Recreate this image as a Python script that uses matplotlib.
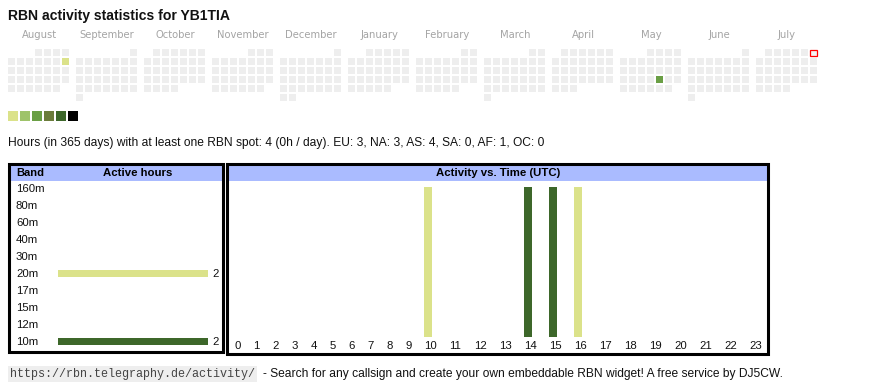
import calendar
import datetime as dt
import numpy as np
import matplotlib.pyplot as plt
from matplotlib.patches import Rectangle

plt.rcParams['font.family'] = ['Liberation Sans', 'DejaVu Sans']

W, H = 870, 390

callsign = 'YB1TIA'
months = [(2024, 8), (2024, 9), (2024, 10), (2024, 11), (2024, 12), (2025, 1),
          (2025, 2), (2025, 3), (2025, 4), (2025, 5), (2025, 6), (2025, 7)]
today = dt.date(2025, 7, 6)
active_days = [dt.date(2024, 8, 11), dt.date(2025, 5, 23)]
active_levels = [0, 2]          # index into the palette
palette = ['#dbe28a', '#9ec36a', '#6a9f45', '#6b7c3b', '#3d672a', '#000000']

bands = ['160m', '80m', '60m', '40m', '30m', '20m', '17m', '15m', '12m', '10m']
band_hours = [0, 0, 0, 0, 0, 2, 0, 0, 0, 2]
band_colors = {'20m': '#dbe28a', '10m': '#3d672a'}

hours = list(range(24))
hour_active = [0, 0, 0, 0, 0, 0, 0, 0, 0, 0, 1, 0,
               0, 0, 1, 1, 1, 0, 0, 0, 0, 0, 0, 0]
hour_band = ['', '', '', '', '', '', '', '', '', '', '20m', '',
             '', '', '10m', '10m', '20m', '', '', '', '', '', '', '']

info = ('Hours (in 365 days) with at least one RBN spot: 4 (0h / day). '
        'EU: 3, NA: 3, AS: 4, SA: 0, AF: 1, OC: 0')
footer_url = 'https://rbn.telegraphy.de/activity/'
footer_text = ('- Search for any callsign and create your own embeddable '
               'RBN widget! A free service by DJ5CW.')


def px_rect(x0, y0, x1, y1):
    return [x0 / W, 1 - y1 / H, (x1 - x0) / W, (y1 - y0) / H]


fig = plt.figure(figsize=(W / 100, H / 100), dpi=100)
ax = fig.add_axes([0, 0, 1, 1])
ax.set_xlim(0, W)
ax.set_ylim(H, 0)
ax.axis('off')

ax.text(8, 16, 'RBN activity statistics for ' + callsign, fontsize=10.1,
        fontweight='bold', va='center', ha='left', color='#111111')

# calendar heatmap, one block of 7 columns (Mon..Sun) per month, rows = weeks
for m, (yr, mo) in enumerate(months):
    bx = 8 + 68 * m
    ax.text(bx + 31, 35.5, calendar.month_name[mo], family='DejaVu Sans',
            fontsize=7.2, color='#a4a4a4', ha='center', va='center')
    first_wd, ndays = calendar.monthrange(yr, mo)
    for d in range(1, ndays + 1):
        i = first_wd + d - 1
        x = bx + 9 * (i % 7)
        y = 49 + 9 * (i // 7)
        day = dt.date(yr, mo, d)
        fc = '#eeeeee'
        if day in active_days:
            fc = palette[active_levels[active_days.index(day)]]
        if day == today:
            ax.add_patch(Rectangle((x + 0.5, y + 0.5), 6.5, 6.5, facecolor='#f4f4f4',
                                   edgecolor='red', lw=0.9))
        else:
            ax.add_patch(Rectangle((x, y), 7, 7, facecolor=fc, lw=0))

for i, c in enumerate(palette):
    ax.add_patch(Rectangle((8 + 12 * i, 111), 10, 10, facecolor=c, lw=0))

ax.text(8, 143, info, fontsize=8.65, va='center', ha='left', color='#111111')

# table frames
ax.add_patch(Rectangle((10, 165), 213, 16, facecolor='#aabbff', lw=0))
ax.add_patch(Rectangle((228, 165), 540, 16, facecolor='#aabbff', lw=0))
ax.add_patch(Rectangle((9.5, 164), 214, 187.5, facecolor='none',
                       edgecolor='black', lw=2.2))
ax.add_patch(Rectangle((227.3, 164), 541.2, 190, facecolor='none',
                       edgecolor='black', lw=2.2))
ax.text(16, 173, 'Band', fontsize=8, fontweight='bold', va='center')
ax.text(138, 173, 'Active hours', fontsize=8.2, fontweight='bold',
        va='center', ha='center')
ax.text(498, 173, 'Activity vs. Time (UTC)', fontsize=8.2, fontweight='bold',
        va='center', ha='center')

# band bars
axb = fig.add_axes(px_rect(58, 181, 208, 350))
axb.axis('off')
ypos = np.arange(len(bands))
colors_b = [band_colors.get(b, 'none') for b in bands]
axb.barh(ypos, band_hours, height=0.42, color=colors_b)
axb.set_xlim(0, max(band_hours))
axb.set_ylim(len(bands) - 0.5, -0.5)
for yv, b, v in zip(ypos, bands, band_hours):
    axb.text(-42 / 150, yv, b, transform=axb.get_yaxis_transform(),
             fontsize=8.2, va='center', ha='left', color='#111111')
    if v > 0:
        axb.annotate(str(v), (v, yv), xytext=(4, 0), textcoords='offset pixels',
                     fontsize=8.2, va='center', ha='left', color='#111111')

# hourly bars, column widths follow the label widths like the html table
axh = fig.add_axes(px_rect(228, 187, 768, 337))
axh.axis('off')
widths = np.array([6 * len(str(h)) + 13 for h in hours])
lefts = np.cumsum(widths) - widths
colors_h = [band_colors.get(b, 'none') for b in hour_band]
axh.bar(lefts + 6, hour_active, width=8, align='edge', color=colors_h)
axh.set_xlim(0, widths.sum())
axh.set_ylim(0, max(hour_active))
for h, l, w in zip(hours, lefts, widths):
    axh.text(l + w / 2, -9 / 150, str(h), fontsize=8.2, ha='center',
             va='center', color='#111111')

# footer
ax.text(10, 374, footer_url, family='Liberation Mono', fontsize=8.5,
        va='center', ha='left', color='#444444',
        bbox=dict(facecolor='#eeeeee', edgecolor='none', pad=1.5))
ax.text(263, 374, footer_text, fontsize=8.65, va='center', ha='left',
        color='#111111')

fig.savefig('out.png', dpi=100)
